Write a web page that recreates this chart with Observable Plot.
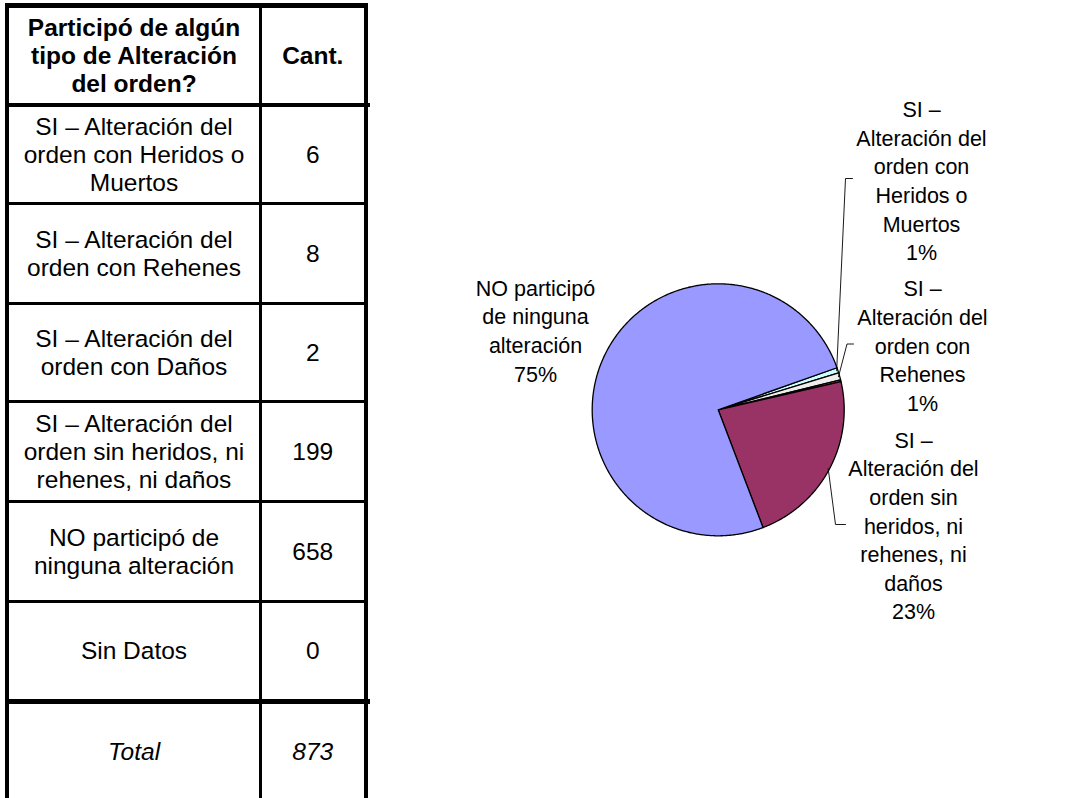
<!DOCTYPE html>
<html>
<head>
<meta charset="utf-8">
<script src="https://cdn.jsdelivr.net/npm/d3@7"></script>
<script src="https://cdn.jsdelivr.net/npm/@observablehq/plot@0.6"></script>
<style>
html,body{margin:0;padding:0;background:#fff;width:1090px;height:798px;overflow:hidden;font-family:Arial,"Liberation Sans",sans-serif;color:#000;}
#table{position:absolute;left:0;top:0;width:380px;height:798px;}
.hl,.vl{position:absolute;background:#000;}
.cell{position:absolute;display:flex;align-items:center;justify-content:center;text-align:center;white-space:pre-line;font-size:24.5px;line-height:28px;}
.head{font-weight:bold;}
.ital{font-style:italic;}
#chart{position:absolute;left:380px;top:0;}
</style>
</head>
<body>
<div id="table"></div>
<div id="chart"></div>
<script>
// ---------- data ----------
const headerLabels = ["Participó de algún\ntipo de Alteración\ndel orden?", "Cant."];
const categories = [
  "SI – Alteración del\norden con Heridos o\nMuertos",
  "SI – Alteración del\norden con Rehenes",
  "SI – Alteración del\norden con Daños",
  "SI – Alteración del\norden sin heridos, ni\nrehenes, ni daños",
  "NO participó de\nninguna alteración",
  "Sin Datos"
];
const counts = [6, 8, 2, 199, 658, 0];
const totalLabel = "Total";
const pieLabels = [
  "SI –\nAlteración del\norden con\nHeridos o\nMuertos",
  "SI –\nAlteración del\norden con\nRehenes",
  "SI –\nAlteración del\norden con Daños",
  "SI –\nAlteración del\norden sin\nheridos, ni\nrehenes, ni\ndaños",
  "NO participó\nde ninguna\nalteración",
  "Sin Datos"
];
const sliceColors = ["#CCFFFF", "#EEEEEE", "#FF5050", "#993366", "#9999FF", "#FFFFCC"];
const showLabel = [true, true, false, true, true, false];

// ---------- table ----------
const total = d3.sum(counts);
const tbl = document.getElementById("table");
const hLines = [[3,5],[103,4],[202,3],[302,3],[400,3],[500,3],[600,3],[699,5]];
const vLines = [[5,4],[259,2.5],[364,4]];
hLines.forEach(([y,h],i) => {
  const d = document.createElement("div"); d.className = "hl";
  const ext = (i===1||i===7) ? 370 : 368;
  Object.assign(d.style,{left:"5px",top:y+"px",width:(ext-5)+"px",height:h+"px"});
  tbl.appendChild(d);
});
vLines.forEach(([x,w]) => {
  const d = document.createElement("div"); d.className = "vl";
  Object.assign(d.style,{left:x+"px",top:"3px",width:w+"px",height:"800px"});
  tbl.appendChild(d);
});
const rowsText = [headerLabels, ...categories.map((c,i)=>[c, String(counts[i])]), [totalLabel, String(total)]];
rowsText.forEach((r,i) => {
  const top = hLines[i][0] + hLines[i][1];
  const bottom = i+1 < hLines.length ? hLines[i+1][0] : 800;
  const cols = [[9,250],[261.5,102.5]];
  r.forEach((t,j) => {
    const d = document.createElement("div");
    d.className = "cell" + (i===0 ? " head" : "") + (i===rowsText.length-1 ? " ital" : "");
    Object.assign(d.style,{left:cols[j][0]+"px",width:cols[j][1]+"px",top:top+"px",height:(bottom-top)+"px"});
    d.textContent = t;
    tbl.appendChild(d);
  });
});

// ---------- pie ----------
const W = 710, H = 798, cx = 337.7, cy = 409.3, R = 126;
const toX = px => (px - 380 - cx) / R;
const toY = py => (cy - py) / R;
const startDeg = 70.5;
const slices = categories.map((c,i) => ({i, name: c, value: counts[i], color: sliceColors[i]}));
const a0 = startDeg * Math.PI / 180;
const arcs = d3.pie().sort(null).value(d => d.value).startAngle(a0).endAngle(a0 + 2*Math.PI)(slices);

function poly(a){
  const pts = [{x:0,y:0}];
  const n = Math.max(2, Math.ceil((a.endAngle - a.startAngle) / (Math.PI/360)));
  for (let k = 0; k <= n; k++) {
    const t = a.startAngle + (a.endAngle - a.startAngle) * k / n;
    pts.push({x: Math.sin(t), y: Math.cos(t)});
  }
  pts.push({x:0,y:0});
  return pts;
}

// label layout (page pixels): label centre, leader elbow, leader end
const labelLayout = {
  0: {c:[921,179], elbow:[845,178], end:[852,178]},
  1: {c:[922,344], elbow:[846.5,343.5], end:[853,343.5]},
  3: {c:[913,524], elbow:[835,524], end:[845,524]},
  4: {c:[535,329]}
};

const labelData = [], leaderData = [];
arcs.forEach(a => {
  const i = a.data.i;
  if (!showLabel[i] || !labelLayout[i]) return;
  const L = labelLayout[i];
  const pct = Math.round(a.data.value / total * 100) + "%";
  labelData.push({x: toX(L.c[0]), y: toY(L.c[1]), text: pieLabels[i] + "\n" + pct});
  if (L.elbow) {
    const m = (a.startAngle + a.endAngle) / 2;
    leaderData.push({id:i, x: Math.sin(m)*0.99, y: Math.cos(m)*0.99});
    leaderData.push({id:i, x: toX(L.elbow[0]), y: toY(L.elbow[1])});
    leaderData.push({id:i, x: toX(L.end[0]), y: toY(L.end[1])});
  }
});

const chart = Plot.plot({
  width: W, height: H, margin: 0,
  style: {fontFamily: "Arial, 'Liberation Sans', sans-serif", background: "transparent", color: "#000"},
  x: {domain: [-cx/R, (W-cx)/R], axis: null},
  y: {domain: [-(H-cy)/R, cy/R], axis: null},
  marks: [
    ...arcs.filter(a => a.value > 0).map(a =>
      Plot.line(poly(a), {x:"x", y:"y", fill: a.data.color, stroke:"#000", strokeWidth:1.3, strokeLinejoin:"round"})),
    Plot.line(leaderData, {x:"x", y:"y", z:"id", stroke:"#000", strokeWidth:0.9, strokeLinejoin:"miter"}),
    Plot.text(labelData, {x:"x", y:"y", text:"text", fontSize:21.5, lineHeight:1.33, fill:"#000", textAnchor:"middle"})
  ]
});
document.getElementById("chart").appendChild(chart);
</script>
</body>
</html>
